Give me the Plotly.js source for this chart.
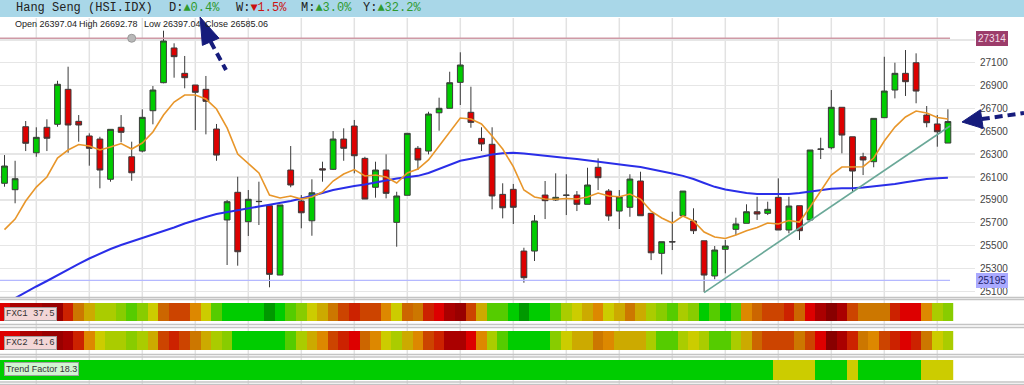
<!DOCTYPE html>
<html><head><meta charset="utf-8">
<script src="https://cdn.plot.ly/plotly-3.0.1.min.js"></script>
<style>html,body{margin:0;padding:0;background:#fff}#chart{width:1024px;height:385px}</style>
</head><body><div id="chart"></div>
<script>
// ---------------- data ----------------
const open = [26045,25989,26540,26312,26535,26561,26867,26587,26459,26432,
26080,26535,26277,26327,26680,26925,27229,27007,26905,26867,
26520,25724,25966,25709,25887,25849,25242,26161,25890,25717,
26172,26167,26432,26546,26263,26010,26161,25703,25940,26351,
26327,26662,26701,26928,26666,26438,26386,25948,25992,25452,
25452,25942,25899,25942,25942,25861,26185,25977,25802,25835,
26065,25782,25432,25534,25761,25715,25542,25234,25467,25642,
25695,25796,25782,25922,25636,25849,25724,26345,26356,26710,
26452,26277,26234,26619,26861,27007,27100,26642,26564,26397.04];
const high = [26292,26242,26590,26535,26605,26942,27065,26642,26482,26452,
26517,26642,26409,26692,26896,27380,27270,27159,26905,26984,
26564,25899,26102,25986,26059,25849,25855,26371,25942,26080,
26234,26502,26526,26599,26277,26234,26298,25971,26482,26371,
26671,26794,27021,27191,26890,26535,26535,26045,26039,25481,
25767,26065,26132,26124,25977,26181,26263,25995,25986,26124,
26146,25782,25534,25796,25977,25826,25542,25496,25549,25744,
25861,25927,25884,26088,25927,25849,26336,26444,26861,26710,
26452,26312,26613,27152,27100,27211,27182,26721,26642,26692.78];
const low = [26015,25870,26327,26277,26327,26540,26312,26409,26199,26001,
26059,26404,26067,26316,26561,26920,26969,26876,26511,26473,
26242,25330,25324,25584,25680,25135,25242,26010,25651,25586,
26059,26161,26242,26132,25907,25919,25913,25490,25940,26161,
26298,26505,26701,26730,26531,26327,25817,25738,25689,25175,
25365,25732,25890,25767,25802,25861,25986,25717,25645,25752,
25761,25373,25248,25461,25761,25601,25095,25205,25257,25592,
25695,25724,25767,25636,25607,25549,25724,26257,26342,26307,
25971,26117,26185,26619,26788,26809,26745,26535,26365,26397.04];
const close = [26196,26085,26395,26447,26439,26911,26555,26555,26351,26161,
26517,26491,26137,26622,26861,27290,27153,26969,26841,26762,
26292,25884,25446,25905,25885,25248,25855,26030,25787,25962,
26161,26432,26351,26286,25907,26161,25957,25934,26482,26249,
26651,26701,26925,27080,26578,26389,25934,25831,25835,25219,
25715,25893,25922,25940,25861,26030,26094,25759,25927,26082,
25761,25437,25534,25532,25977,25630,25242,25461,25496,25689,
25796,25776,25817,25636,25846,25630,26336,26343,26710,26467,
26152,26249,26613,26852,27007,26934,26852,26575,26496,26585.06];
const maShort = [25640,25732,25890,26012,26100,26266,26336,26384,26371,26336,
26362,26393,26345,26397,26494,26642,26756,26817,26817,26782,
26695,26529,26301,26214,26135,25942,25916,25934,25907,25925,
25969,26065,26126,26165,26109,26117,26100,26047,26135,26170,
26249,26371,26494,26616,26607,26564,26459,26345,26190,25986,
25925,25907,25905,25912,25907,25925,25960,25934,25927,25951,
25907,25802,25741,25697,25759,25715,25619,25575,25562,25592,
25630,25658,25697,25689,25719,25706,25837,25977,26117,26187,
26190,26190,26266,26415,26537,26625,26677,26660,26620,26607];
const maLong = [24989,25041,25094,25142,25190,25242,25290,25339,25387,25430,
25470,25505,25535,25562,25592,25627,25658,25693,25724,25750,
25776,25794,25807,25824,25842,25857,25872,25890,25912,25934,
25960,25986,26006,26021,26034,26054,26069,26087,26098,26110,
26135,26172,26209,26242,26259,26279,26296,26308,26312,26305,
26294,26284,26275,26266,26257,26244,26233,26219,26205,26198,
26187,26170,26150,26130,26110,26082,26047,26014,25990,25973,
25960,25951,25951,25951,25951,25960,25973,25986,25997,26001,
26001,26008,26017,26027,26039,26054,26068,26082,26089,26094];
const trendX = [66, 89.2];
const trendY = [25089, 26546];
const levelHigh = 27314, levelLow = 25195, levelMarkIdx = 12;
// indicator levels: 0 = darkest red ... 15 = dark green
const fxc1 = [3,2,2,2,1,1,4,7,9,11, 11,12,13,12,10,6,5,5,8,10, 13,14,14,14,14,15,14,13,12,10,
  9,7,5,4,5,5,8,10,6,7, 4,3,2,1,5,9,13,13,14,15, 14,14,13,11,10,9,8,10,9,7,
  9,11,12,13,11,12,14,13,14,13, 8,6,5,5,4,6,3,2,0,2, 5,7,7,7,4,3,3,8,11,12];
const fxc2 = [3,3,2,2,1,1,2,4,8,10, 11,11,12,11,9,5,4,5,7,9, 11,12,14,14,14,14,14,13,11,9,
  8,5,4,3,6,8,10,11,9,8, 5,4,2,2,3,8,11,13,14,14, 14,14,12,10,9,9,7,8,9,9,
  9,11,13,13,11,10,11,13,13,11, 9,6,5,5,5,7,5,3,0,2, 4,7,8,5,4,3,4,7,10,11];
const trendFactor = [14,14,14,14,14,14,14,14,14,14, 14,14,14,14,14,14,14,14,14,14, 14,14,14,14,14,14,14,14,14,14,
  14,14,14,14,14,14,14,14,14,14, 14,14,14,14,14,14,14,14,14,14, 14,14,14,14,14,14,14,14,14,14,
  14,14,14,14,14,14,14,14,14,14, 14,14,14,10,10,10,10,14,14,14, 10,14,14,14,14,14,14,10,10,10];
const palette = ['#880000','#990000','#aa0000','#dd0000','#cc2200','#cc4400','#cc6600','#cc7700',
  '#dd8800','#ccaa00','#cccc00','#aacc00','#88cc00','#55cc00','#00cc00','#009900'];
const priceTicks = [25100,25300,25500,25700,25900,26100,26300,26500,26700,26900,27100,27300];
const priceTickText = ['25100','25300','25500','25700','25900','26100','26300','26500','26700','26900','27100',''];
const headerName = 'Hang Seng (HSI.IDX)';
const headerStats = [['D:','▲0.4%','#2f9a2f'],['W:','▼1.5%','#cc1111'],['M:','▲3.0%','#2f9a2f'],['Y:','▲32.2%','#2f9a2f']];
const ohlcInfo = [['Open','26397.04'],['High','26692.78'],['Low','26397.04'],['Close','26585.06']];
const panelTexts = ['FXC1 37.5', 'FXC2 41.6', 'Trend Factor 18.3'];

// ---------------- layout helpers ----------------
const W = 1024, H = 385;
const px = x => x / W, py = y => 1 - y / H;
const days = open.map((_, i) => i);
const cs = palette.map((c, k) => [k / (palette.length - 1), c]);
const mono = 'Liberation Mono, DejaVu Sans Mono, monospace';
const sans = 'Liberation Sans, Arial, sans-serif';

const traces = [
  {type:'scatter', mode:'lines', x:[-0.5, trendX[1]], y:[levelHigh, levelHigh], line:{color:'#cf9aa6', width:1.5}, xaxis:'x', yaxis:'y', hoverinfo:'skip'},
  {type:'scatter', mode:'lines', x:[-0.5, trendX[1]], y:[levelLow, levelLow], line:{color:'#b4b8ff', width:1.2}, xaxis:'x', yaxis:'y', hoverinfo:'skip'},
  {type:'scatter', mode:'markers', x:[levelMarkIdx], y:[levelHigh], marker:{color:'#b8b8b8', size:8, line:{color:'#999', width:1}}, xaxis:'x', yaxis:'y'},
  {type:'scatter', mode:'lines', x:days, y:maLong, line:{color:'#2a2ee8', width:2}, xaxis:'x', yaxis:'y'},
  {type:'scatter', mode:'lines', x:days, y:maShort, line:{color:'#e8962a', width:1.6}, xaxis:'x', yaxis:'y'},
  {type:'scatter', mode:'lines', x:trendX, y:trendY, line:{color:'#6aa898', width:1.6}, xaxis:'x', yaxis:'y'},
  {type:'candlestick', x:days, open:open, high:high, low:low, close:close, xaxis:'x', yaxis:'y', whiskerwidth:0,
   increasing:{fillcolor:'#00cc00', line:{color:'#3a3a3a', width:1}},
   decreasing:{fillcolor:'#dd0000', line:{color:'#3a3a3a', width:1}}},
  {type:'heatmap', x:days, y:[0], z:[fxc1], colorscale:cs, zmin:0, zmax:15, showscale:false, xaxis:'x', yaxis:'y2'},
  {type:'heatmap', x:days, y:[0], z:[fxc2], colorscale:cs, zmin:0, zmax:15, showscale:false, xaxis:'x', yaxis:'y3'},
  {type:'heatmap', x:days, y:[0], z:[trendFactor], colorscale:cs, zmin:0, zmax:15, showscale:false, xaxis:'x', yaxis:'y4'}
];

const shapes = [];
shapes.push({type:'rect', xref:'paper', yref:'paper', x0:0, x1:1, y0:py(17), y1:1, fillcolor:'#a9d7e8', line:{width:0}, layer:'below'});
for (let k = 3; k < days.length; k += 5) {
  shapes.push({type:'line', xref:'x', yref:'paper', x0:k, x1:k, y0:0, y1:py(18), line:{color:'#e2e2e2', width:1.5}, layer:'below'});
}
[[297.5,299.5],[324.5,327.5],[354.5,357],[382,384.5]].forEach(pair => pair.forEach(yy => {
  shapes.push({type:'line', xref:'paper', yref:'paper', x0:0, x1:1, y0:py(yy), y1:py(yy), line:{color:'#c4c4c4', width:1.3}});
}));
const navy = '#161c7c';
function arrow(tip, c1, c2, base, tail) {
  shapes.push({type:'line', xref:'paper', yref:'paper', x0:px(base[0]), y0:py(base[1]), x1:px(tail[0]), y1:py(tail[1]), line:{color:navy, width:4, dash:'8px,5px'}});
  shapes.push({type:'path', xref:'paper', yref:'paper', path:`M ${px(tip[0])} ${py(tip[1])} L ${px(c1[0])} ${py(c1[1])} L ${px(c2[0])} ${py(c2[1])} Z`, fillcolor:navy, line:{color:navy, width:1}});
}
arrow([200,17],[219,38.2],[202.4,45.4],[210.7,41.8],[226,70]);
arrow([962,122],[983.2,128.5],[980.4,109.7],[981.8,119.1],[1024,113]);

const annotations = [];
annotations.push({xref:'paper', yref:'paper', x:px(14), y:py(8.5), xanchor:'left', yanchor:'middle', showarrow:false, text:headerName, font:{family:mono, size:12, color:'#222'}});
const statX = [167, 234, 299, 361];
headerStats.forEach((s, i) => annotations.push({xref:'paper', yref:'paper', x:px(statX[i]), y:py(8.5), xanchor:'left', yanchor:'middle', showarrow:false,
  text:`${s[0]}<span style="color:${s[2]}">${s[1]}</span>`, font:{family:mono, size:12, color:'#222'}}));
const infoX = [13, 77, 142, 203];
ohlcInfo.forEach((s, i) => annotations.push({xref:'paper', yref:'paper', x:px(infoX[i]), y:py(24.5), xanchor:'left', yanchor:'middle', showarrow:false,
  text:`${s[0]} ${s[1]}`, font:{family:sans, size:9, color:'#222'}}));
annotations.push({xref:'paper', yref:'y', x:px(992), y:levelHigh, xanchor:'center', yanchor:'middle', showarrow:false, text:String(levelHigh),
  bgcolor:'#9c3c6a', bordercolor:'#9c3c6a', borderpad:1, font:{family:sans, size:10, color:'#f3dce6'}});
annotations.push({xref:'paper', yref:'y', x:px(992), y:levelLow, xanchor:'center', yanchor:'middle', showarrow:false, text:String(levelLow),
  bgcolor:'#aaaaff', bordercolor:'#aaaaff', borderpad:1, font:{family:sans, size:10, color:'#22226a'}});
const panelStyle = [[314, mono, '#f3d6d6', 9], [343, mono, '#f3d6d6', 9], [369, sans, '#d2f4d2', 9]];
panelTexts.forEach((t, i) => { const p = panelStyle[i]; annotations.push({xref:'paper', yref:'paper', x:px(4), y:py(p[0]), xanchor:'left', yanchor:'middle', showarrow:false, text:t,
  bgcolor:p[2], bordercolor:'#a0a0a0', borderwidth:1, borderpad:1, font:{family:p[1], size:p[3], color:'#333'}}); });

const xr = [-0.425, 91.557];
const layout = {
  width:W, height:H, margin:{l:0, r:0, t:0, b:0}, paper_bgcolor:'#ffffff', plot_bgcolor:'rgba(0,0,0,0)',
  showlegend:false, boxgap:0.22, hovermode:false,
  xaxis:{domain:[0, 975/W], range:xr, showgrid:false, zeroline:false, showticklabels:false, ticks:'', rangeslider:{visible:false}, anchor:'y', fixedrange:true},
  yaxis:{domain:[py(297), py(17)], range:[25050, 27500], side:'right', anchor:'x', tickvals:priceTicks, ticktext:priceTickText,
    tickfont:{family:sans, size:10, color:'#444'}, gridcolor:'#e6e6e6', gridwidth:1.5, zeroline:false, ticks:'', ticklabelstandoff:4},
  yaxis2:{domain:[py(321), py(303)], range:[-0.5, 0.5], visible:false, anchor:'x'},
  yaxis3:{domain:[py(350), py(331)], range:[-0.5, 0.5], visible:false, anchor:'x'},
  yaxis4:{domain:[py(380), py(360)], range:[-0.5, 0.5], visible:false, anchor:'x'},
  shapes:shapes, annotations:annotations
};
Plotly.newPlot('chart', traces, layout, {staticPlot:true, displayModeBar:false});
</script></body></html>
